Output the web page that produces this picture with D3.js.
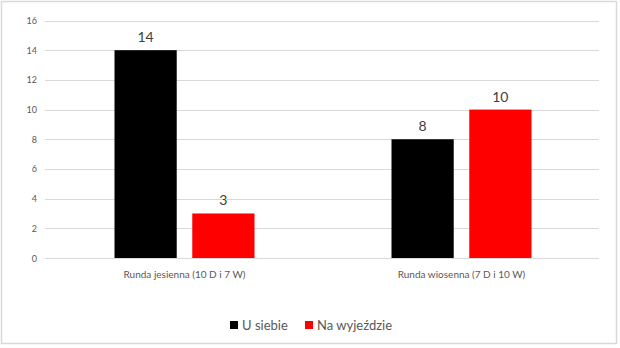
<!DOCTYPE html>
<html><head><meta charset="utf-8">
<script src="https://cdn.jsdelivr.net/npm/d3@7"></script>
<style>body{margin:0;background:#fff}svg{display:block}</style>
</head><body><svg id="c" width="620" height="348"></svg>
<script>
const categories = ["Runda jesienna (10 D i 7 W)", "Runda wiosenna (7 D i 10 W)"];
const seriesNames = ["U siebie", "Na wyjeździe"];
const uSiebie = [14, 8];
const naWyjezdzie = [3, 10];
const yTicks = [0, 2, 4, 6, 8, 10, 12, 14, 16];
const colors = ["#000000", "#ff0000"];

const svg = d3.select("#c");
const font = "Lato, Calibri, 'Open Sans', sans-serif";
svg.append("rect").attr("x",1.5).attr("y",1.5).attr("width",615).attr("height",342)
  .attr("fill","#fff").attr("stroke","#d9d9d9").attr("stroke-width",1.5);

const x0 = d3.scaleBand().domain(categories).range([45, 599]).paddingInner(0).paddingOuter(0);
const x1 = d3.scaleBand().domain(seriesNames).range([0, 140]).paddingInner(0.2);
const y = d3.scaleLinear().domain([0, 16]).range([258, 20.5]);

const grid = svg.append("g");
yTicks.forEach(t => {
  grid.append("line").attr("x1",45).attr("x2",599).attr("y1",Math.round(y(t))+0.5).attr("y2",Math.round(y(t))+0.5)
    .attr("stroke","#d9d9d9").attr("stroke-width",1);
  grid.append("text").attr("x",37).attr("y",y(t)+3.5).attr("text-anchor","end")
    .attr("font-family",font).attr("font-size",9).attr("fill","#595959").text(t);
});

const data = categories.map((c,i)=>({cat:c, vals:[uSiebie[i], naWyjezdzie[i]]}));
data.forEach(d => {
  const gx = x0(d.cat) + (x0.bandwidth() - 140)/2 + 1;
  d.vals.forEach((v,j) => {
    const bx = gx + x1(seriesNames[j]);
    svg.append("rect").attr("x",bx).attr("y",y(v)).attr("width",x1.bandwidth()).attr("height",y(0)-y(v)).attr("fill",colors[j]);
    svg.append("text").attr("x",bx + x1.bandwidth()/2).attr("y",y(v)-8).attr("text-anchor","middle")
      .attr("font-family",font).attr("font-size",14).attr("fill","#404040").text(v);
  });
  svg.append("text").attr("x",x0(d.cat)+x0.bandwidth()/2 + 1).attr("y",278).attr("text-anchor","middle")
    .attr("font-family",font).attr("font-size",10).attr("fill","#595959").text(d.cat);
});

const leg = svg.append("g");
const legItems = [{n:seriesNames[0], x:230},{n:seriesNames[1], x:305}];
legItems.forEach((l,i)=>{
  leg.append("rect").attr("x",l.x).attr("y",321).attr("width",8).attr("height",8).attr("fill",colors[i]);
  leg.append("text").attr("x",l.x+12).attr("y",330).attr("font-family",font).attr("font-size",13).attr("fill","#595959").text(l.n);
});
</script></body></html>
